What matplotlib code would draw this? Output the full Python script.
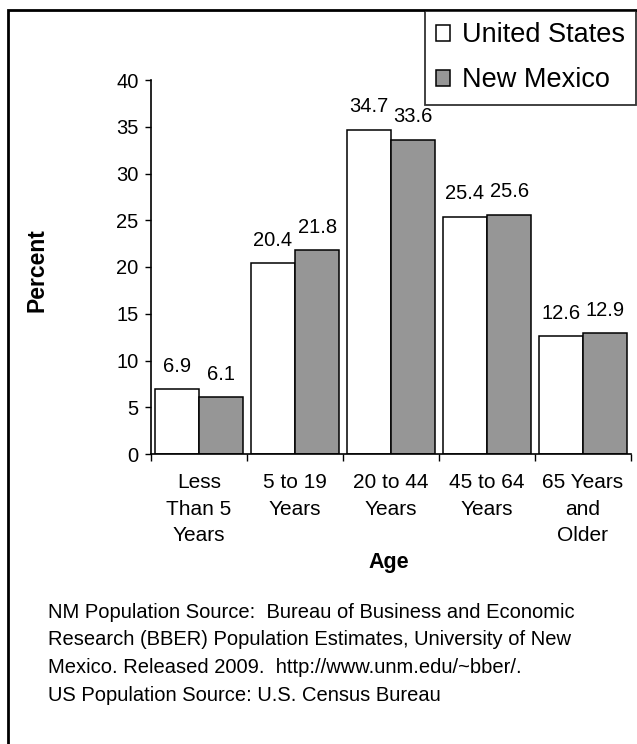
import matplotlib
matplotlib.use("Agg")
import matplotlib.pyplot as plt
import matplotlib.patches as mpatches
import numpy as np

plt.rcParams["font.family"] = ["Liberation Sans", "DejaVu Sans"]

age_groups = ["Less\nThan 5\nYears", "5 to 19\nYears", "20 to 44\nYears",
              "45 to 64\nYears", "65 Years\nand\nOlder"]
us_values = [6.9, 20.4, 34.7, 25.4, 12.6]
nm_values = [6.1, 21.8, 33.6, 25.6, 12.9]
series_names = ["United States", "New Mexico"]

footnote_lines = [
    "NM Population Source:  Bureau of Business and Economic",
    "Research (BBER) Population Estimates, University of New",
    "Mexico. Released 2009.  http://www.unm.edu/~bber/.",
    "US Population Source: U.S. Census Bureau",
]

W, H = 637, 744
fig = plt.figure(figsize=(W / 100, H / 100), dpi=100)

# axes placed in pixel terms: x 151..631, y 80..454
ax = fig.add_axes([151 / W, 1 - 454 / H, 480 / W, 374 / H])

x = np.arange(len(age_groups))
width = 0.46
ax.bar(x - width / 2, us_values, width, color="white", edgecolor="black",
       linewidth=1.1, label=series_names[0])
ax.bar(x + width / 2, nm_values, width, color="#969696", edgecolor="black",
       linewidth=1.1, label=series_names[1])

for xs, vals in [(x - width / 2, us_values), (x + width / 2, nm_values)]:
    for xi, v in zip(xs, vals):
        ax.annotate(f"{v:.1f}", (xi, v), xytext=(0, 12.5), textcoords="offset points",
                    ha="center", va="baseline", fontsize=14.5)

ax.set_xlim(-0.5, len(age_groups) - 0.5)
ax.set_ylim(0, 40)
ax.set_yticks(range(0, 41, 5))
ax.tick_params(axis="y", labelsize=14.5, length=4, width=1, pad=5, direction="out")

# ticks at category boundaries, labels at centers
ax.set_xticks(np.arange(-0.5, len(age_groups), 1.0))
ax.set_xticklabels([])
ax.tick_params(axis="x", which="major", length=5, width=1, direction="out")
ax.set_xticks(x, minor=True)
ax.set_xticklabels(age_groups, minor=True, fontsize=15, linespacing=1.5)
ax.tick_params(axis="x", which="minor", length=0, pad=14)

for s in ["top", "right"]:
    ax.spines[s].set_visible(False)
for s in ["left", "bottom"]:
    ax.spines[s].set_linewidth(1.2)

ax.set_ylabel("Percent", fontsize=16.5, fontweight="bold", va="center")
ax.yaxis.set_label_coords(-0.2375, 0.492)
ax.set_xlabel("Age", fontsize=15.5, fontweight="bold", va="center")
ax.xaxis.set_label_coords(0.495, -0.289)

leg = fig.legend(loc="upper right", bbox_to_anchor=(636 / W, 1 - 11 / H),
                 bbox_transform=fig.transFigure, borderaxespad=0,
                 fontsize=19.5, frameon=True, fancybox=False, edgecolor="black",
                 handlelength=0.52, handleheight=0.52, handletextpad=0.42,
                 borderpad=0.42, labelspacing=0.7)
leg.get_frame().set_linewidth(1.3)

for i, line in enumerate(footnote_lines):
    fig.text(48 / W, 1 - (612 + i * 27.7) / H, line, fontsize=14.5,
             ha="left", va="center")

# outer frame around the whole chart area
frame = mpatches.Rectangle((8 / W, -0.05), 1.1, 1 - 10 / H + 0.05,
                           transform=fig.transFigure, fill=False,
                           edgecolor="black", linewidth=2, clip_on=False)
fig.patches.append(frame)

plt.savefig("out.png", dpi=100)
plt.close()
